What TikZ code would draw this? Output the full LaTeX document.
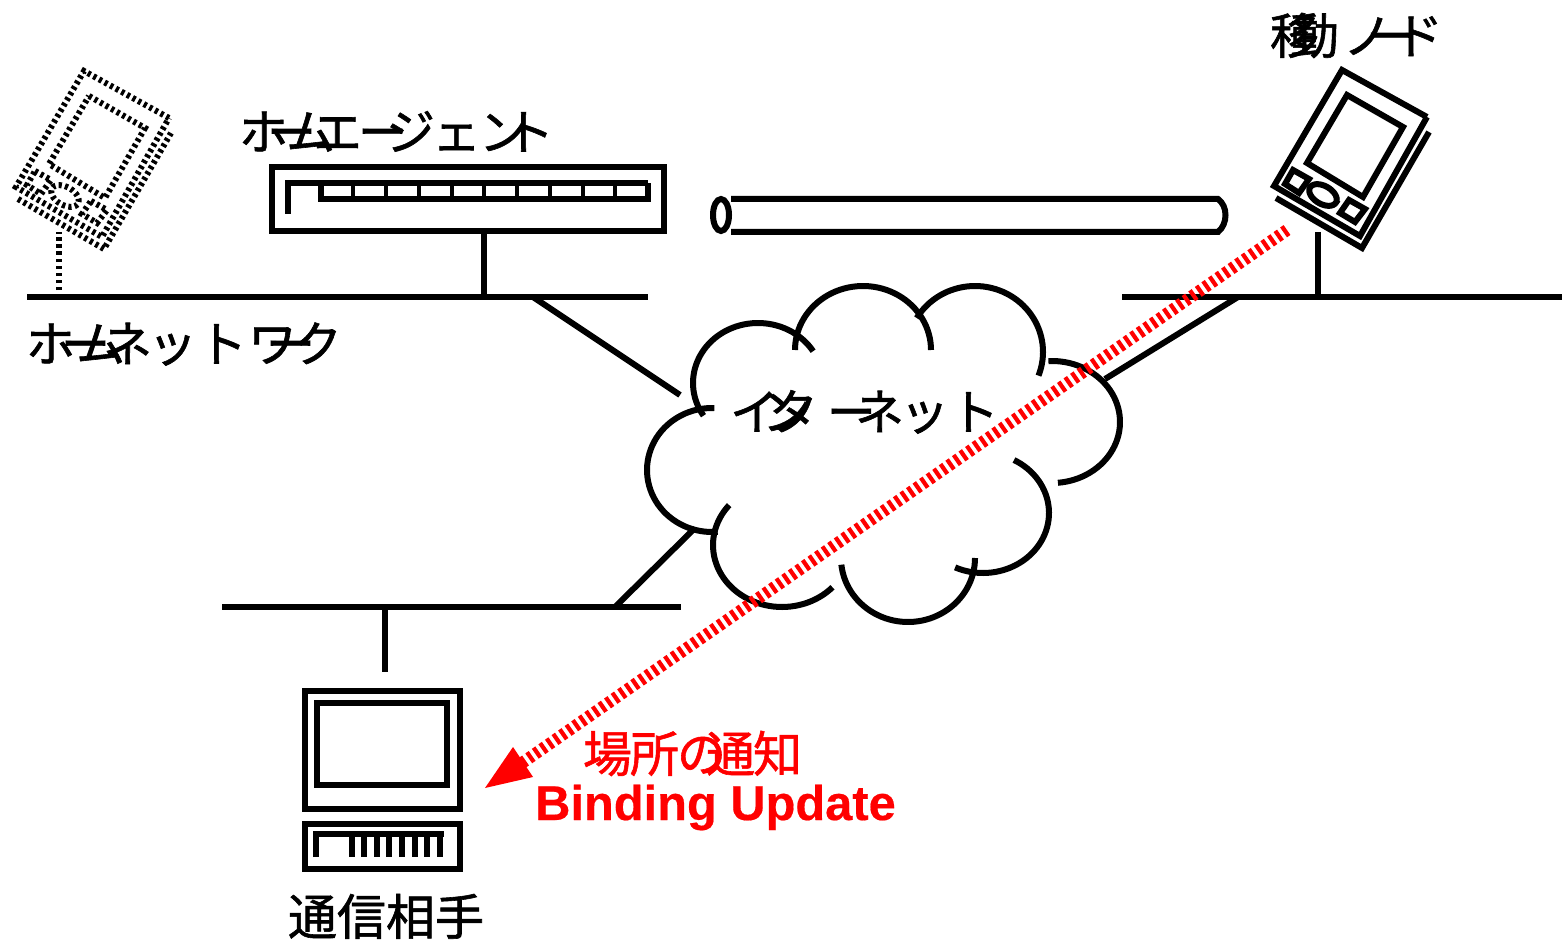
\documentclass[tikz,border=0pt]{standalone}
\usepackage{fontspec}
\newfontfamily\jpfont[FakeBold=1.2]{Noto Sans CJK JP}
\newfontfamily\enfont[FakeBold=0.4]{Liberation Sans}
\newcommand\Ka[1]{\kern\dimexpr #1pt-49pt\relax}
\tikzset{
  wire/.style={line width=6pt,black},
  net/.style={line width=6.5pt,black},
  dev/.style={line width=6pt,black},
  thin part/.style={line width=4pt,black},
  lab/.style={anchor=base west,inner sep=0pt,outer sep=0pt,font=\jpfont\fontsize{49}{49}\selectfont},
  redlab/.style={anchor=base west,inner sep=0pt,outer sep=0pt,text=red,font=\jpfont\fontsize{49}{49}\selectfont},
  dotty/.style={line width=6pt,dash pattern=on 3.2pt off 3.2pt},
  solidy/.style={line width=6pt},
  notify/.style={draw=red,line width=12pt,dash pattern=on 4.2pt off 3.8pt}
}
\newcommand\Lobe[6]{\draw[wire] plot[domain=#5:#6,samples=50,smooth] ({#1+#3*cos(\x)},{#2+#4*sin(\x)});}
% PDA drawn from an offset and a line style
\newcommand\Pda[3]{%
  \begin{scope}[shift={(#1,#2)},#3]
    \draw (1427,117) -- (1342,70) -- (1274,186) -- (1360,236) -- (1427,117);
    \draw (1276,198) -- (1362,248) -- (1429,132);
    \draw (1347,95) -- (1403,127) -- (1363,197) -- (1307,163) -- cycle;
    \draw (1293,170) -- (1309,179) -- (1299,193) -- (1285,184) -- cycle;
    \draw (1349,200) -- (1365,209) -- (1355,222) -- (1340,213) -- cycle;
    \draw plot[domain=0:360,samples=50,smooth cycle] ({1323+15*cos(\x)*cos(30)-9*sin(\x)*sin(30)},{195+15*cos(\x)*sin(30)+9*sin(\x)*cos(30)});
  \end{scope}}
\begin{document}
\begin{tikzpicture}[x=1pt,y=-1pt]
\useasboundingbox (0,0) rectangle (1562,941);
% coordinates
\coordinate (homeL) at (27,297);
\coordinate (homeR) at (648,297);
\coordinate (haTap) at (484,297);
\coordinate (haDn) at (484,232);
\coordinate (homeCl) at (533,297);
\coordinate (clHome) at (680,395);
\coordinate (foreL) at (1122,297);
\coordinate (foreR) at (1562,297);
\coordinate (foreCl) at (1238,297);
\coordinate (clFore) at (1105,379);
\coordinate (mnTap) at (1318,297);
\coordinate (mnDn) at (1318,232);
\coordinate (cnL) at (222,607);
\coordinate (cnR) at (681,607);
\coordinate (cnCl) at (615,607);
\coordinate (clCn) at (695,528);
\coordinate (cnTap) at (385,607);
\coordinate (cnDn) at (385,672);
\coordinate (oldTap) at (59,297);
\coordinate (oldUp) at (59,232);
\coordinate (buStart) at (1287,230);
\coordinate (buEnd) at (522,763);
% networks
\draw[net] (homeL) -- (homeR);
\draw[net] (foreL) -- (foreR);
\draw[net] (cnL) -- (cnR);
\draw[wire] (haDn) -- (haTap);
\draw[wire] (homeCl) -- (clHome);
\draw[wire] (foreCl) -- (clFore);
\draw[wire] (mnDn) -- (mnTap);
\draw[wire] (cnCl) -- (clCn);
\draw[wire] (cnTap) -- (cnDn);
\draw[line width=6pt,dash pattern=on 3.5pt off 3.5pt] (oldTap) -- (oldUp);
% home agent
\draw[dev] (272,167) rectangle (664,231);
\draw[wire] (288,214) -- (288,183) -- (648,183);
\draw[wire] (321,183) -- (321,199.5) -- (648,199.5) -- (648,183);
\foreach \px in {353,386,419,452,484,517,550,583,615}{\draw[thin part] (\px,183) -- (\px,199.5);}
% tube
\draw[wire] (731,199) -- (1218,199) .. controls (1228,206) and (1228,224) .. (1218,232) -- (731,232);
\draw[wire] (721,215) ellipse [x radius=8,y radius=16];
% cloud
\Lobe{758}{383}{65}{60}{147}{328}
\Lobe{863}{350}{68}{64}{180}{360}
\Lobe{975}{352}{68}{66}{211}{381}
\Lobe{1052}{422}{68}{61}{267}{445}
\Lobe{983}{513}{66}{60}{-62}{115}
\Lobe{908}{558}{67}{64}{0}{174}
\Lobe{782}{545}{69}{62}{43}{220}
\Lobe{712}{470}{65}{62}{85}{272}
% PDAs
\Pda{0}{0}{solidy}
\Pda{-1258}{1}{dotty}
% computer
\draw[dev] (304.5,690.5) rectangle (459.5,808.5);
\draw[dev] (317,703) rectangle (446.5,785);
\draw[dev] (304.5,823.5) rectangle (459.5,868.5);
\draw[wire] (316,857) -- (316,834) -- (444,834);
\foreach \px in {352,364,377,389,402,415,427,440}{\draw[wire] (\px,834) -- (\px,857);}
% notification
\draw[notify] (buStart) -- (buEnd);
\fill[red] (485,788) -- (513,747) -- (533,777) -- cycle;
% labels
\node[lab] (ha) at (239,150) {ホ\Ka{28}ー\Ka{19}ム\Ka{27}エ\Ka{45}ー\Ka{28}ジ\Ka{46}ェ\Ka{47}ン\Ka{26}ト};
\node[lab] (hn) at (26,362) {ホ\Ka{35}ー\Ka{15}ム\Ka{27}ネ\Ka{45}ッ\Ka{50}ト\Ka{50}ワ\Ka{18}ー\Ka{27}ク};
\node[lab] (inet) at (730,430) {イ\Ka{32}ン\Ka{7}タ\Ka{58}ー\Ka{28}ネ\Ka{45}ッ\Ka{50}ト};
\node[lab] (mn) at (1270,54) {移\Ka{20}動\Ka{53}ノ\Ka{23}ー\Ka{28}ド};
\node[lab] (cn) at (288,935) {通信相手};
\node[redlab] (bu1) at (583,772) {場\Ka{47}所\Ka{47}の\Ka{29}通\Ka{47}知};
\node[anchor=base west,inner sep=0pt,text=red,font=\enfont\bfseries\fontsize{48.8}{49}\selectfont] (bu2) at (535,820) {Binding Update};
\end{tikzpicture}
\end{document}
